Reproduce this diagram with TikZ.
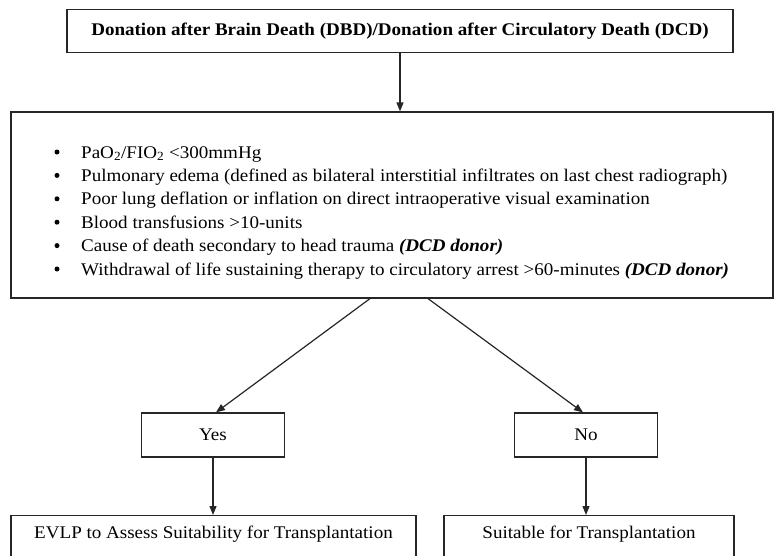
\documentclass[tikz,border=0pt]{standalone}
\usepackage{fontspec}
\setmainfont[FakeStretch=1.07]{Liberation Serif}
\usetikzlibrary{arrows.meta,positioning}

\tikzset{
  box/.style={draw=black!85, line width=1.2pt, inner sep=0pt},
  arr/.style={draw=black!85, line width=1.2pt, -{Triangle[length=9pt,width=7pt]}},
  dot/.style={circle, fill=black, inner sep=0pt, minimum size=5pt},
}

\begin{document}
\begin{tikzpicture}[x=1pt,y=-1pt,font=\fontsize{17.8}{21}\selectfont]
        % Fix the page size
        \useasboundingbox (0,0) rectangle (774,555);
        \clip (0,0) rectangle (774,555);
        % Donor type
        \node[box, minimum width=666pt, minimum height=43pt] (donor) at (400,31)
          {\textbf{Donation after Brain Death (DBD)/Donation after Circulatory Death (DCD)}};
        % Criteria box
        \node[box, minimum width=762pt, minimum height=186pt] (crit) at (392,205) {};
        \foreach \t [count=\i] in {
            {PaO\textsubscript{2}/FIO\textsubscript{2} <300mmHg},
            {Pulmonary edema (defined as bilateral interstitial infiltrates on last chest radiograph)},
            {Poor lung deflation or inflation on direct intraoperative visual examination},
            {Blood transfusions >10-units},
            {Cause of death secondary to head trauma \textbf{\textit{(DCD donor)}}},
            {Withdrawal of life sustaining therapy to circulatory arrest >60-minutes \textbf{\textit{(DCD donor)}}}}
        {
          \node[dot] (dot\i) at (57,152+23.4*\i-23.4) {};
          \node[anchor=base west, inner sep=0pt] (item\i) at (81,158+23.4*\i-23.4) {\t};
        }
        % Decision
        \node[box, minimum width=143pt, minimum height=44pt] (yes) at (213,435) {Yes};
        \node[box, minimum width=143pt, minimum height=44pt] (no) at (586,435) {No};
        % Outcome boxes (cut off at the bottom)
        \node[box, anchor=north, minimum width=405pt, text depth=40pt, inner ysep=10pt] (evlp) at (213.5,515)
          {EVLP to Assess Suitability for Transplantation};
        \node[box, anchor=north, minimum width=290pt, text depth=40pt, inner ysep=10pt] (suit) at (589,515)
          {Suitable for Transplantation};
        % Connectors
        \draw[arr] (donor.south) -- (donor.south |- crit.north);
        \draw[arr] ([xshift=-22pt]crit.south) -- ([xshift=3pt]yes.north);
        \draw[arr] ([xshift=36pt]crit.south) -- ([xshift=-3pt]no.north);
        \draw[arr] (yes.south) -- (yes.south |- evlp.north);
        \draw[arr] (no.south) -- (no.south |- suit.north);
\end{tikzpicture}
\end{document}
